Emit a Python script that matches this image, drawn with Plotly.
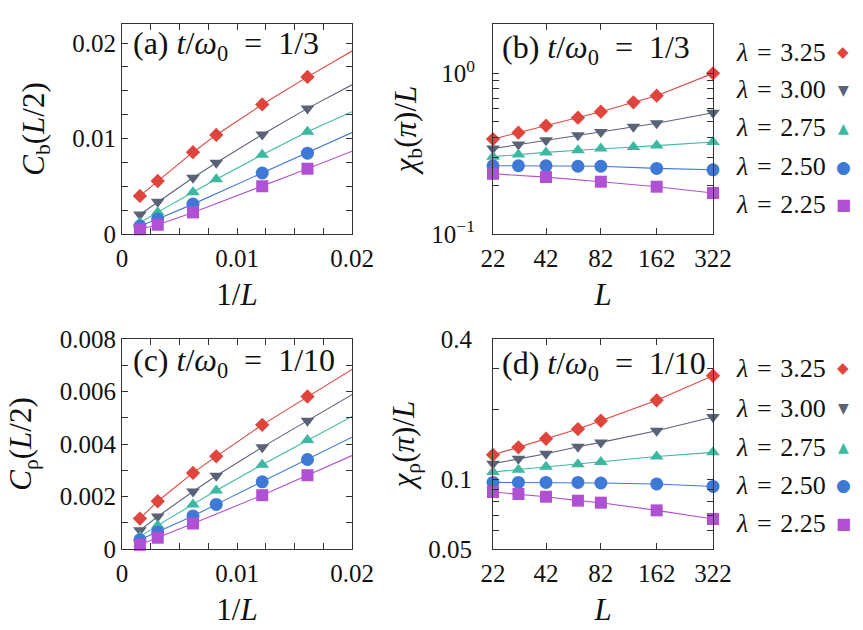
import plotly.graph_objects as go
import math

# ---------------- data ----------------
lambdas = ["3.25", "3.00", "2.75", "2.50", "2.25"]
colors = ["#e0453d", "#5a6277", "#3db8a1", "#3f79d6", "#b050d3"]
symbols = ["diamond", "triangle-down", "triangle-up", "circle", "square"]
sizes = [11, 12, 12, 13, 12]

# panels (a),(c): x = 1/L
L_ac = [642, 322, 162, 122, 82, 62]
cb_325 = [0.00399, 0.00555, 0.00857, 0.01038, 0.01357, 0.01646]
cb_300 = [0.00205, 0.00337, 0.00590, 0.00747, 0.01042, 0.01316]
cb_275 = [0.00118, 0.00229, 0.00438, 0.00573, 0.00830, 0.01070]
cb_250 = [0.00083, 0.00156, 0.00313, None, 0.00639, 0.00847]
cb_225 = [0.00049, 0.00097, 0.00226, None, 0.00500, 0.00684]
cb_fit_end = [0.01917, 0.01563, 0.01281, 0.01063, 0.00868]   # fit value at 1/L = 0.02

cr_325 = [0.00116, 0.00182, 0.00290, 0.00353, 0.00473, 0.00581]
cr_300 = [0.00071, 0.00124, 0.00219, 0.00279, 0.00388, 0.00489]
cr_275 = [0.00047, 0.00090, 0.00170, 0.00223, 0.00321, 0.00415]
cr_250 = [0.00035, 0.00065, 0.00126, 0.00170, 0.00256, 0.00341]
cr_225 = [0.00016, 0.00043, 0.00097, None, 0.00205, 0.00281]
cr_fit_end = [0.00684, 0.00588, 0.00505, 0.00426, 0.00356]
fit_x_end = 0.02

# panels (b),(d): x = L
L_bd = [22, 30, 42, 62, 82, 122, 162, 322]
xb_325 = [0.390, 0.427, 0.472, 0.530, 0.577, 0.660, 0.726, 1.000]
xb_300 = [0.340, 0.360, 0.383, 0.411, 0.431, 0.465, 0.489, 0.569]
xb_275 = [0.303, 0.313, 0.322, 0.332, 0.340, 0.348, 0.355, 0.374]
xb_250 = [0.266, 0.266, 0.266, 0.264, 0.264, None, 0.256, 0.251]
xb_225 = [0.237, None, 0.226, None, 0.2116, None, 0.197, 0.180]

xr_325 = [0.127, 0.1368, 0.149, 0.164, 0.178, None, 0.218, 0.278]
xr_300 = [0.1164, 0.1222, 0.1285, 0.1377, 0.1437, None, 0.1613, 0.1848]
xr_275 = [0.1072, 0.1097, 0.1130, 0.1156, 0.1184, None, 0.1250, 0.1302]
xr_250 = [0.0967, 0.0967, 0.0967, 0.0967, 0.0961, None, 0.0952, 0.0929]
xr_225 = [0.0879, 0.0862, 0.0839, 0.0807, 0.0791, None, 0.0733, 0.0673]

# tick labels
ticks_inv = [0, 0.01, 0.02]
ticks_L = [22, 42, 82, 162, 322]
ticks_cb = [0, 0.01, 0.02]
ticks_cr = [0, 0.002, 0.004, 0.006, 0.008]
ticks_xb = [0.1, 1.0]
ticks_xb_text = ["10<sup>−1</sup>", "10<sup>0</sup>"]
ticks_xr = [0.05, 0.1, 0.4]
ticks_xr_text = ["0.05", "0.1", "0.4"]
minor_b = [0.2, 0.3, 0.4, 0.5, 0.6, 0.7, 0.8, 0.9, 2.0]
minor_r = [0.06, 0.07, 0.08, 0.09, 0.2, 0.3]

cb_all = [cb_325, cb_300, cb_275, cb_250, cb_225]
cr_all = [cr_325, cr_300, cr_275, cr_250, cr_225]
xb_all = [xb_325, xb_300, xb_275, xb_250, xb_225]
xr_all = [xr_325, xr_300, xr_275, xr_250, xr_225]

FONT = "Liberation Serif, Tinos, Times New Roman, DejaVu Serif, serif"
W, H = 863, 630

fig = go.Figure()
inv_L = [1.0 / L for L in L_ac]

def add_fit_panel(vals_all, ends, xa, ya):
    for i, vals in enumerate(vals_all):
        xs = [x for x, v in zip(inv_L, vals) if v is not None]
        ys = [v for v in vals if v is not None]
        order = sorted(range(len(xs)), key=lambda k: xs[k])
        lx = [xs[k] for k in order] + [fit_x_end]
        ly = [ys[k] for k in order] + [ends[i]]
        fig.add_trace(go.Scatter(x=lx, y=ly, mode="lines", xaxis=xa, yaxis=ya,
                                 line=dict(color=colors[i], width=1.1),
                                 showlegend=False, hoverinfo="skip"))
        fig.add_trace(go.Scatter(x=xs, y=ys, mode="markers", xaxis=xa, yaxis=ya,
                                 marker=dict(symbol=symbols[i], size=sizes[i], color=colors[i],
                                             line=dict(width=0)),
                                 name="λ = " + lambdas[i], showlegend=False, cliponaxis=False))

def add_log_panel(vals_all, xa, ya):
    for i, vals in enumerate(vals_all):
        xs = [x for x, v in zip(L_bd, vals) if v is not None]
        ys = [v for v in vals if v is not None]
        fig.add_trace(go.Scatter(x=xs, y=ys, mode="lines+markers", xaxis=xa, yaxis=ya,
                                 line=dict(color=colors[i], width=1.1),
                                 marker=dict(symbol=symbols[i], size=sizes[i], color=colors[i],
                                             line=dict(width=0)),
                                 name="λ = " + lambdas[i], showlegend=False, cliponaxis=False))

add_fit_panel(cb_all, cb_fit_end, "x", "y")
add_log_panel(xb_all, "x2", "y2")
add_fit_panel(cr_all, cr_fit_end, "x3", "y3")
add_log_panel(xr_all, "x4", "y4")

# geometry (pixels)
xl1, xr1 = 122, 352
xl2, xr2 = 493, 713
yt1, yb1 = 24, 234
yt2, yb2 = 339, 549
dx1 = [xl1 / W, xr1 / W]
dx2 = [xl2 / W, xr2 / W]
dy1 = [1 - yb1 / H, 1 - yt1 / H]
dy2 = [1 - yb2 / H, 1 - yt2 / H]

axcol = "#333333"
tickfont = dict(family=FONT, size=25, color="#111111")
titlefont = dict(family=FONT, size=31, color="#111111")

def base_axis():
    return dict(showline=True, linecolor=axcol, linewidth=1.2, mirror="allticks",
                ticks="inside", ticklen=6, tickwidth=1, tickcolor=axcol, automargin=False,
                showgrid=False, zeroline=False, tickfont=tickfont)

def fmt(v):
    return "0" if v == 0 else f"{v:g}"

# (a) / (c) x axes
for name, anc in [("xaxis", "y"), ("xaxis3", "y3")]:
    a = base_axis()
    a.update(domain=dx1, range=[0, 0.02], tickmode="array", tickvals=ticks_inv,
             ticktext=[fmt(v) for v in ticks_inv], anchor=anc,
             minor=dict(dtick=0.0025, tick0=0, ticks="inside", ticklen=6, tickcolor=axcol),
             title=dict(text="1/<i>L</i>", font=titlefont, standoff=12), ticklabelstandoff=2)
    fig.layout[name] = a

a = base_axis()
a.update(domain=dy1, range=[0, 0.022], tickmode="array", tickvals=ticks_cb,
         ticktext=[fmt(v) for v in ticks_cb], anchor="x",
         minor=dict(dtick=0.0025, tick0=0, ticks="inside", ticklen=6, tickcolor=axcol),
         title=dict(text="<i>C</i><sub>b</sub>(<i>L</i>/2)", font=titlefont, standoff=18))
fig.layout["yaxis"] = a

a = base_axis()
a.update(domain=dy2, range=[0, 0.008], tickmode="array", tickvals=ticks_cr,
         ticktext=[fmt(v) for v in ticks_cr], anchor="x3",
         minor=dict(dtick=0.001, tick0=0, ticks="inside", ticklen=6, tickcolor=axcol),
         title=dict(text="<i>C</i><sub>ρ</sub>(<i>L</i>/2)", font=titlefont, standoff=18))
fig.layout["yaxis3"] = a

# (b) / (d) x axes (log)
for name, anc in [("xaxis2", "y2"), ("xaxis4", "y4")]:
    a = base_axis()
    a.update(domain=dx2, type="log", range=[math.log10(22), math.log10(322)], tickmode="array",
             tickvals=ticks_L, ticktext=[str(t) for t in ticks_L], anchor=anc,
             title=dict(text="<i>L</i>", font=titlefont, standoff=12), ticklabelstandoff=2)
    fig.layout[name] = a

a = base_axis()
a.update(domain=dy1, type="log", range=[-1, 0.307], tickmode="array", tickvals=ticks_xb,
         ticktext=ticks_xb_text, anchor="x2", ticklabelstandoff=12,
         minor=dict(tickmode="array", tickvals=minor_b, ticks="inside", ticklen=6, tickcolor=axcol),
         title=dict(text="<i>χ</i><sub>b</sub>(<i>π</i>)/<i>L</i>", font=titlefont, standoff=5))
fig.layout["yaxis2"] = a

a = base_axis()
a.update(domain=dy2, type="log", range=[math.log10(0.05), math.log10(0.4)], tickmode="array",
         tickvals=ticks_xr, ticktext=ticks_xr_text, anchor="x4", ticklabelstandoff=15,
         minor=dict(tickmode="array", tickvals=minor_r, ticks="inside", ticklen=6, tickcolor=axcol),
         title=dict(text="<i>χ</i><sub>ρ</sub>(<i>π</i>)/<i>L</i>", font=titlefont, standoff=4))
fig.layout["yaxis4"] = a

# panel labels
SP = "\u2002"
panel_labels = [("(a) <i>t</i>/<i>ω</i><sub>0</sub>" + SP + "=" + SP + "1/3", 131, 46),
                ("(b) <i>t</i>/<i>ω</i><sub>0</sub>" + SP + "=" + SP + "1/3", 500, 50),
                ("(c) <i>t</i>/<i>ω</i><sub>0</sub>" + SP + "=" + SP + "1/10", 131, 363),
                ("(d) <i>t</i>/<i>ω</i><sub>0</sub>" + SP + "=" + SP + "1/10", 500, 365)]
for txt, px, py in panel_labels:
    fig.add_annotation(text=txt, x=px / W, y=1 - py / H, xref="paper", yref="paper",
                       xanchor="left", yanchor="middle", showarrow=False,
                       font=dict(family=FONT, size=32, color="#111111"))

# legends (text then marker glyph)
SPL = "\u2004"
glyphs = ["◆", "▼", "▲", "●", "■"]
glyph_sizes = [15, 14, 14, 17, 16]
rows_top = [52, 90, 128, 167, 205]
rows_bot = [368, 408, 447, 485, 523]
for rows in (rows_top, rows_bot):
    for i, ry in enumerate(rows):
        fig.add_annotation(text="<i>λ</i>" + SPL + "=" + SPL + lambdas[i], x=828 / W, y=1 - ry / H,
                           xref="paper", yref="paper", xanchor="right", yanchor="middle",
                           showarrow=False, font=dict(family=FONT, size=26, color="#111111"))
        fig.add_annotation(text=glyphs[i], x=843 / W, y=1 - ry / H, xref="paper", yref="paper",
                           xanchor="center", yanchor="middle", showarrow=False,
                           font=dict(family="DejaVu Sans", size=glyph_sizes[i], color=colors[i]))

fig.update_layout(width=W, height=H, margin=dict(l=0, r=0, t=0, b=0, autoexpand=False),
                  paper_bgcolor="white", plot_bgcolor="white", showlegend=False,
                  font=dict(family=FONT))

fig.write_html("out.html")
